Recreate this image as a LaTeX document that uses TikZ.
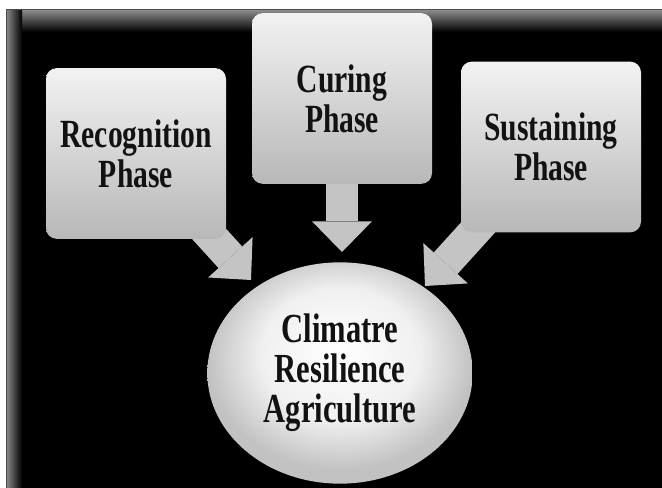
\documentclass[tikz,border=0pt]{standalone}
\usepackage{fontspec}
\setmainfont{Liberation Serif}[FakeStretch=0.74]
\usetikzlibrary{arrows.meta, shapes.geometric}
\usepackage{xcolor}
\definecolor{arrowgray}{RGB}{196,196,196}
\definecolor{inkblack}{RGB}{18,18,18}
\pgfdeclarelayer{back}
\pgfdeclarelayer{mid}
\pgfsetlayers{back,mid,main}
\pgfdeclareradialshading{discshade}{\pgfpoint{0bp}{6bp}}{color(0bp)=(white); color(15bp)=(black!6); color(25bp)=(black!24); color(50bp)=(black!24)}

\begin{document}
\begin{tikzpicture}[x=0.75pt, y=-0.75pt]
    \tikzstyle{phase}=[rectangle, rounded corners=8pt, top color=black!5, bottom color=black!28, minimum width=135pt, minimum height=128pt, inner sep=0pt, align=center, text=inkblack, font=\fontsize{30}{30}\selectfont\bfseries]
    \tikzstyle{goal}=[ellipse, shading=discshade, minimum width=199pt, minimum height=166pt, inner sep=0pt, align=center, text=inkblack, font=\fontsize{31}{30}\selectfont\bfseries]
    \tikzstyle{block arrow}=[draw=arrowgray, line width=24pt, -{Triangle[length=23pt, width=45pt, line width=0pt]}]

    \useasboundingbox (0,0) rectangle (662,488);

%    frame with the inner glow
    \begin{pgfonlayer}{back}
        \fill[white] (0,0) rectangle (662,488);
        \fill[black] (6,10) rectangle (662,488);
        \shade[top color=black!45, bottom color=black] (6,10) rectangle (662,32);
        \shade[left color=black!45, right color=black] (6,10) rectangle (22,488);
        \draw[black!70, line width=0.75pt] (6,488) -- (6,10) -- (662,10);
    \end{pgfonlayer}

    \node[phase] (rec) at (136,153.5) {Recognition\\Phase};
    \node[phase] (cur) at (342,98.5) {Curing\\Phase};
    \node[phase] (sus) at (551,147) {Sustaining\\Phase};
    \node[goal] (cra) at (340,373) {Climatre\\Resilience\\Agriculture};

    \coordinate (recTip) at (251,280);
    \coordinate (curTip) at (342,252);
    \coordinate (susTip) at (425,286);

    \begin{pgfonlayer}{mid}
        \draw[block arrow] (rec.center) -- (recTip);
        \draw[block arrow] (cur.center) -- (curTip);
        \draw[block arrow] (sus.center) -- (susTip);
    \end{pgfonlayer}
\end{tikzpicture}
\end{document}
